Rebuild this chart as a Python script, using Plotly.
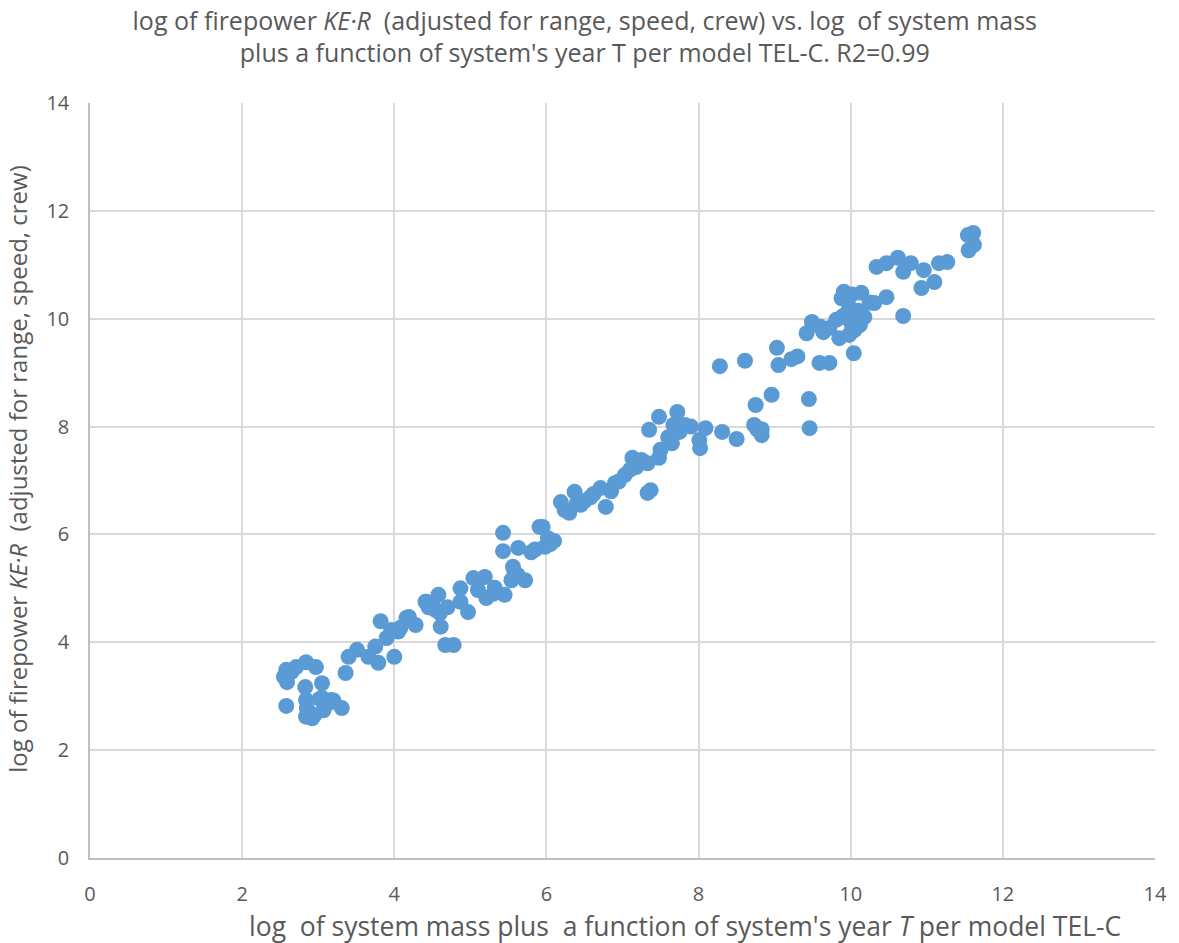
import plotly.graph_objects as go

# x: log of system mass plus function of year T (TEL-C); y: log of firepower KE*R
x_vals = [
    2.58, 2.55, 2.59, 2.71, 2.84, 2.97, 2.58, 2.83, 3.05, 2.84, 2.85, 2.84, 2.92, 3.05, 3.17, 3.07, 3.31,
    3.36, 3.40, 3.51, 3.66, 3.79, 3.75, 3.90, 3.82, 4.00, 3.96, 4.08, 4.16, 4.28, 4.41, 4.58, 4.54, 4.61,
    4.67, 4.78, 4.87, 4.87, 4.19, 4.42, 4.60, 4.97, 5.04, 5.19, 5.10, 5.21, 5.32, 5.45, 5.54, 5.56, 5.72,
    5.43, 5.43, 5.63, 5.80, 5.91, 6.02, 6.05, 5.95, 5.98, 6.19, 6.24, 6.37, 6.40, 6.58, 6.71, 6.78, 6.90,
    7.03, 7.13, 7.18, 7.33, 7.33, 7.37, 7.48, 7.50, 7.35, 7.48, 7.72, 7.82, 7.67, 7.65, 7.75, 8.01, 8.02,
    8.09, 8.31, 8.50, 8.73, 8.77, 8.28, 8.61, 9.03, 9.05, 9.22, 9.59, 9.72, 10.04, 8.96, 8.75, 9.45, 9.46,
    8.83, 8.83, 9.42, 9.64, 9.85, 9.98, 9.49, 9.72, 9.81, 9.91, 9.88, 9.98, 9.98, 10.05, 10.14, 10.18,
    10.12, 10.31, 10.47, 10.69, 10.34, 10.47, 10.62, 10.69, 10.79, 10.96, 10.93, 11.10, 11.16, 11.27,
    11.55, 11.61, 11.54, 11.62, 2.65, 2.88, 2.95, 3.10, 3.20, 4.05, 4.50, 4.70, 5.30, 5.58, 5.85, 6.10,
    6.30, 6.50, 6.62, 6.85, 7.10, 7.60, 7.90, 9.30, 9.60, 9.95, 10.02, 10.10, 10.25, 10.02, 9.90, 5.62,
    6.45, 6.95, 7.25, 4.45, 3.02, 3.15
]
y_vals = [
    3.49, 3.36, 3.26, 3.54, 3.63, 3.54, 2.82, 3.17, 3.24, 2.93, 2.78, 2.62, 2.59, 2.97, 2.93, 2.74, 2.78,
    3.43, 3.73, 3.86, 3.73, 3.62, 3.92, 4.08, 4.39, 3.73, 4.23, 4.27, 4.45, 4.32, 4.75, 4.88, 4.60, 4.29,
    3.95, 3.95, 5.00, 4.75, 4.47, 4.75, 4.54, 4.56, 5.19, 5.21, 4.97, 4.82, 5.01, 4.88, 5.15, 5.40, 5.15,
    6.03, 5.69, 5.75, 5.67, 6.14, 5.93, 5.82, 6.14, 5.77, 6.60, 6.45, 6.79, 6.58, 6.69, 6.86, 6.51, 6.95,
    7.10, 7.42, 7.25, 7.32, 6.77, 6.82, 7.42, 7.57, 7.94, 8.18, 8.27, 8.03, 8.03, 7.69, 7.90, 7.75, 7.60,
    7.97, 7.90, 7.77, 8.03, 7.95, 9.12, 9.22, 9.46, 9.14, 9.25, 9.18, 9.18, 9.36, 8.59, 8.40, 8.51, 7.97,
    7.84, 7.95, 9.73, 9.75, 9.64, 9.70, 9.94, 9.83, 9.98, 10.50, 10.38, 10.22, 9.98, 9.79, 10.48, 10.03,
    9.88, 10.29, 10.40, 10.05, 10.96, 11.03, 11.13, 10.87, 11.03, 10.90, 10.57, 10.68, 11.03, 11.05,
    11.27, 11.59, 11.55, 11.37, 3.45, 2.70, 2.65, 2.85, 2.92, 4.20, 4.70, 4.65, 4.90, 5.30, 5.72, 5.88,
    6.40, 6.62, 6.75, 6.80, 7.20, 7.80, 8.00, 9.30, 9.85, 10.10, 9.85, 10.15, 10.30, 10.45, 10.05, 5.25,
    6.55, 6.98, 7.38, 4.65, 2.95, 2.88
]

title_text = ("log of firepower <i>KE·R</i>  (adjusted for range, speed, crew) vs. log  of system mass"
              "<br>plus a function of system's year T per model TEL-C. R2=0.99")
x_title = "log  of system mass plus  a function of system's year <i>T</i> per model TEL-C"
y_title = "log of firepower <i>KE·R</i>  (adjusted for range, speed, crew)"

FONT = "'Open Sans', Lato, sans-serif"
TXT = "#595959"
grid_col = "#D9D9D9"
axis_col = "#BFBFBF"

fig = go.Figure()
fig.add_trace(go.Scatter(
    x=x_vals, y=y_vals, mode="markers",
    marker=dict(size=16, color="#5B9BD5", line=dict(width=0)),
    showlegend=False,
))

fig.update_layout(
    width=1179, height=943,
    paper_bgcolor="white", plot_bgcolor="white",
    margin=dict(l=90, r=19, t=103, b=85),
    title=dict(
        text=title_text,
        x=0.496, xanchor="center", xref="container", y=0.9687, yanchor="middle", yref="container",
        font=dict(family=FONT, size=25, color=TXT),
    ),
    xaxis=dict(
        range=[0, 14], dtick=2, tick0=0, showgrid=True, gridcolor=grid_col, gridwidth=1.5,
        zeroline=False, showline=True, linecolor=axis_col, linewidth=1.5, mirror=False,
        ticks="", tickfont=dict(family=FONT, size=20, color=TXT), ticklabelstandoff=17,
    ),
    yaxis=dict(
        range=[0, 14], dtick=2, tick0=0, showgrid=True, gridcolor=grid_col, gridwidth=1.5,
        zeroline=False, showline=True, linecolor=axis_col, linewidth=1.5, mirror=False,
        ticks="", tickfont=dict(family=FONT, size=20, color=TXT), ticklabelstandoff=15,
    ),
    annotations=[
        dict(text=x_title, xref="paper", yref="paper", x=0.559, y=-0.090,
             xanchor="center", yanchor="middle", showarrow=False,
             font=dict(family=FONT, size=26.5, color=TXT)),
        dict(text=y_title, xref="paper", yref="paper", x=-0.068, y=0.515,
             xanchor="center", yanchor="middle", showarrow=False, textangle=-90,
             font=dict(family=FONT, size=24, color=TXT)),
    ],
)

fig.write_html("out.html", config={"displayModeBar": False},
               post_script="document.body.style.margin='0';")
